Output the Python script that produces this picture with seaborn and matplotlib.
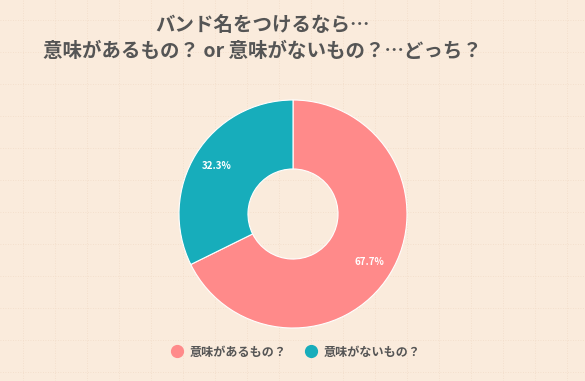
import matplotlib.pyplot as plt
import matplotlib.lines as mlines
import seaborn as sns

labels = ['意味があるもの？', '意味がないもの？']
shares = [67.7, 32.3]
colors = ['#FF8A8A', '#17ADBB']

title = 'バンド名をつけるなら…\n意味があるもの？ or 意味がないもの？…どっち？'

sns.set_theme(style="white")
plt.rcParams['font.family'] = ['Noto Sans CJK JP', 'DejaVu Sans']

bg = '#FAEBDC'
fig = plt.figure(figsize=(5.85, 3.81), dpi=100, facecolor=bg)

# faint background grid
grid_ax = fig.add_axes([0, 0, 1, 1], facecolor=bg)
grid_ax.set_xlim(0, 585)
grid_ax.set_ylim(381, 0)
for gx in range(23, 585, 32):
    grid_ax.axvline(gx, color='#F2DCC8', linewidth=0.6, linestyle=(0, (1, 2)), zorder=0)
for gy in range(20, 381, 32):
    grid_ax.axhline(gy, color='#F2DCC8', linewidth=0.6, linestyle=(0, (1, 2)), zorder=0)
grid_ax.axis('off')

ax = fig.add_axes([0.3060, 0.1391, 0.3897, 0.5984])
wedges, texts, autotexts = ax.pie(
    shares,
    colors=colors,
    startangle=90,
    counterclock=False,
    autopct='%.1f%%',
    pctdistance=0.79,
    wedgeprops=dict(width=0.605, edgecolor='white', linewidth=0.8),
    textprops=dict(color='white', fontsize=7, fontweight='bold'),
)
ax.set_aspect('auto')
ax.set_xlim(-1, 1)
ax.set_ylim(-1, 1)

fig.text(0.448, 0.898, title, ha='center', va='center', fontsize=14,
         fontweight='bold', color='#555555', linespacing=1.45)

handles = [
    mlines.Line2D([], [], marker='o', linestyle='None', markersize=8.5,
                  markerfacecolor=c, markeredgecolor=c, label=l)
    for c, l in zip(colors, labels)
]
leg = fig.legend(handles=handles, loc='center', bbox_to_anchor=(0.5, 0.076),
                 ncol=2, frameon=False, handletextpad=0.05, columnspacing=1.0,
                 prop=dict(size=8.7, weight='bold'))
for t in leg.get_texts():
    t.set_color('#555555')

fig.savefig('out.png', dpi=100, facecolor=bg)
